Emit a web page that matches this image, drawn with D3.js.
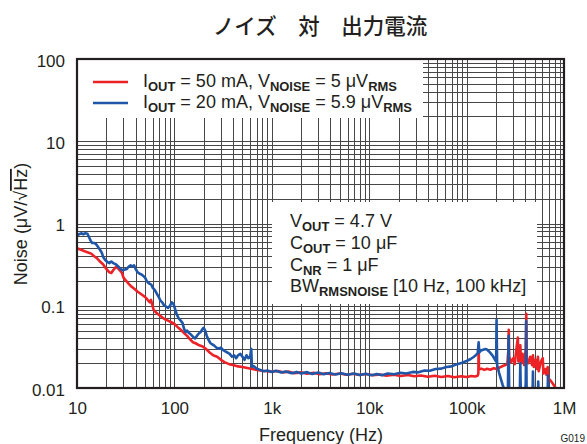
<!DOCTYPE html>
<html><head><meta charset="utf-8">
<script src="https://cdn.jsdelivr.net/npm/d3@7"></script>
<style>
body{margin:0;background:#fff;}
svg text{font-family:"Liberation Sans",Arial,Helvetica,sans-serif;fill:#231f20;}
</style></head><body>
<svg id="chart" width="587" height="444"></svg>
<script>
// Noise spectral density vs. frequency for two load currents
const chartTitle = "ノイズ　対　出力電流";
const xTickValues = [10, 100, 1e3, 1e4, 1e5, 1e6];
const xTickLabels = ["10", "100", "1k", "10k", "100k", "1M"];
const yTickValues = [0.01, 0.1, 1, 10, 100];
const yTickLabels = ["0.01", "0.1", "1", "10", "100"];

// IOUT = 50 mA
const freq50mA = [10,11,12,13,14,15,16,17,18.5,20,21.5,22.5,23.5,25,26,27.5,29,30,32,34,36,39,42,45,48,51,54,56,57.5,59,61,64,68,73,79,86,93,100,108,116,125,135,145,155,165,180,195,210,230,250,275,300,330,365,400,450,500,560,630,700,800,900,1000,1150,1300,1500,1700,2000,2300,2700,3100,3600,4200,5000,5800,6800,8000,9300,11000,13000,15000,18000,21000,25000,29000,34000,40000,47000,55000,64000,75000,88000,100000,112000,122000,130000,132000,133000,134000,142000,152000,163000,175000,190000,205000,220000,235000,250000,262000,268000,271000,274000,285000,300000,312000,325000,336000,340000,350000,356000,362000,375000,390000,405000,410000,415000,430000,450000,470000,480000,490000,510000,530000,540000,550000,580000,605000,615000,640000,660000,680000,690000,720000,760000,800000,830000];
const noise50mA = [0.50,0.48,0.46,0.445,0.43,0.40,0.38,0.35,0.32,0.28,0.255,0.25,0.27,0.295,0.29,0.27,0.25,0.22,0.20,0.185,0.172,0.16,0.148,0.14,0.132,0.125,0.115,0.11,0.118,0.105,0.09,0.084,0.079,0.074,0.069,0.066,0.063,0.060,0.055,0.051,0.047,0.043,0.039,0.036,0.035,0.033,0.032,0.030,0.027,0.025,0.024,0.022,0.0205,0.0195,0.019,0.0183,0.018,0.0175,0.017,0.0166,0.0162,0.016,0.0158,0.0161,0.0155,0.0158,0.0151,0.0155,0.0149,0.0153,0.0147,0.0151,0.0146,0.0150,0.0145,0.0149,0.0144,0.0148,0.0143,0.0146,0.0141,0.0145,0.0140,0.0144,0.0139,0.0142,0.0137,0.0141,0.0136,0.0140,0.0135,0.0139,0.0136,0.0140,0.0138,0.0141,0.0150,0.033,0.0168,0.0172,0.0166,0.0171,0.0167,0.0174,0.0170,0.0178,0.0185,0.0190,0.0195,0.028,0.051,0.024,0.0205,0.023,0.0195,0.030,0.041,0.021,0.025,0.033,0.020,0.026,0.019,0.030,0.080,0.022,0.020,0.024,0.019,0.025,0.018,0.022,0.017,0.024,0.016,0.021,0.023,0.015,0.017,0.0145,0.018,0.013,0.0125,0.0115,0.0105,0.0098];

// IOUT = 20 mA
const freq20mA = [10,10.5,11,11.6,12.2,12.8,13.3,13.8,14.3,15,15.7,16.4,17.2,18,18.6,19.5,20.5,21.5,22.5,23.5,25,26.5,28,29.5,31,32.5,34,35.5,37,38.5,40,42,44,46,48,50,52,54,56,58,60,63,66,69,72,75,78,82,86,90,94,98,102,106,111,116,121,126,130,135,140,147,155,163,170,178,186,194,200,207,215,225,235,245,255,270,285,300,315,330,350,370,390,410,430,450,475,500,525,550,575,600,615,625,650,700,760,830,900,1000,1100,1250,1400,1600,1800,2000,2300,2600,3000,3400,3900,4500,5200,6000,7000,8000,9200,10500,12000,13500,15500,18000,21000,24000,28000,32000,37000,42000,48000,55000,62000,70000,80000,90000,100000,110000,118000,125000,130000,133000,135000,140000,148000,156000,163000,170000,178000,186000,194000,201000,203000,206000,215000,225000,235000,245000,255000,265000,270000,274000,300000,330000,352000,356000,360000,400000,405000,409000,413000,450000,476000,480000,484000,540000,544000,548000,600000,680000,684000,688000,750000];
const noise20mA = [0.72,0.74,0.76,0.74,0.76,0.75,0.68,0.62,0.58,0.58,0.56,0.52,0.48,0.44,0.39,0.36,0.34,0.33,0.345,0.33,0.32,0.30,0.28,0.27,0.275,0.28,0.30,0.31,0.30,0.31,0.28,0.255,0.245,0.24,0.23,0.22,0.20,0.19,0.185,0.18,0.165,0.155,0.14,0.128,0.115,0.11,0.102,0.098,0.094,0.10,0.11,0.105,0.09,0.078,0.07,0.066,0.062,0.052,0.048,0.05,0.047,0.045,0.042,0.04,0.043,0.046,0.048,0.052,0.054,0.05,0.043,0.038,0.035,0.034,0.033,0.031,0.03,0.031,0.029,0.028,0.027,0.026,0.024,0.025,0.023,0.025,0.026,0.024,0.022,0.025,0.023,0.024,0.030,0.018,0.0185,0.0172,0.0166,0.0160,0.0163,0.0157,0.0162,0.0154,0.0159,0.0151,0.0157,0.0150,0.0156,0.0148,0.0154,0.0147,0.0152,0.0146,0.0151,0.0145,0.0150,0.0144,0.0149,0.0143,0.0148,0.0143,0.0150,0.0147,0.0153,0.0150,0.0157,0.0155,0.0163,0.0162,0.0170,0.0172,0.0180,0.0183,0.0195,0.0203,0.0213,0.0225,0.0238,0.0252,0.0265,0.036,0.027,0.0285,0.0292,0.0298,0.0292,0.0278,0.0262,0.0245,0.0225,0.021,0.067,0.019,0.0155,0.0128,0.0108,0.0094,0.0082,0.0085,0.043,0.0085,0.008,0.0085,0.009,0.020,0.009,0.008,0.012,0.065,0.009,0.008,0.009,0.0158,0.009,0.0085,0.012,0.009,0.008,0.0085,0.0142,0.0085,0.008];

const svg = d3.select("#chart");
const plot = {left: 77, right: 564, top: 59, bottom: 388};

const x = d3.scaleLog().domain([10, 1e6]).range([plot.left, plot.right]);
const y = d3.scaleLog().domain([0.01, 100]).range([plot.bottom, plot.top]);

// title
svg.append("text")
  .attr("x", 320).attr("y", 34)
  .attr("text-anchor", "middle")
  .style("font-family", '"Noto Sans CJK JP", sans-serif')
  .style("font-size", "21.5px")
  .style("font-weight", "500")
  .text(chartTitle);

// grid lines at 1..9 of every decade
const gridX = [];
for (let d = 10; d < 1e6; d *= 10) for (let k = 1; k < 10; k++) gridX.push(k * d);
const gridY = [];
for (let d = 0.01; d < 99; d *= 10) for (let k = 1; k < 10; k++) gridY.push(k * d);

const grid = svg.append("g").attr("stroke", "#474747").attr("stroke-width", 1);
grid.selectAll("line.v").data(gridX).join("line").attr("class", "v")
  .attr("x1", d => Math.round(x(d)) + 0.5).attr("x2", d => Math.round(x(d)) + 0.5)
  .attr("y1", plot.top).attr("y2", plot.bottom);
grid.selectAll("line.h").data(gridY).join("line").attr("class", "h")
  .attr("y1", d => Math.round(y(d)) + 0.5).attr("y2", d => Math.round(y(d)) + 0.5)
  .attr("x1", plot.left).attr("x2", plot.right);

// legend and condition boxes cover the grid
svg.append("rect").attr("x", plot.left).attr("y", plot.top).attr("width", 346).attr("height", 59).attr("fill", "#fff");
svg.append("rect").attr("x", 272).attr("y", 202).attr("width", 265).attr("height", 102).attr("fill", "#fff");

// curves
svg.append("clipPath").attr("id", "plotClip").append("rect")
  .attr("x", plot.left).attr("y", plot.top)
  .attr("width", plot.right - plot.left).attr("height", plot.bottom - plot.top);

const line = d3.line().x(d => x(d[0])).y(d => y(d[1]));
const series = [
  {f: freq50mA, v: noise50mA, color: "#ec2227"},
  {f: freq20mA, v: noise20mA, color: "#1f56a8"}
];
const curves = svg.append("g").attr("clip-path", "url(#plotClip)");
series.forEach(s => {
  curves.append("path")
    .datum(d3.zip(s.f, s.v))
    .attr("fill", "none").attr("stroke", s.color)
    .attr("stroke-width", 2.6).attr("stroke-linejoin", "round")
    .attr("d", line);
});

// frame
svg.append("rect").attr("x", plot.left).attr("y", plot.top)
  .attr("width", plot.right - plot.left).attr("height", plot.bottom - plot.top)
  .attr("fill", "none").attr("stroke", "#231f20").attr("stroke-width", 2.2);

// axes
const xAxis = d3.axisBottom(x).tickValues(xTickValues)
  .tickFormat((d, i) => xTickLabels[i]).tickSize(0).tickPadding(14);
const gx = svg.append("g").attr("transform", `translate(0,${plot.bottom})`).call(xAxis);
const yAxis = d3.axisLeft(y).tickValues(yTickValues)
  .tickFormat((d, i) => yTickLabels[i]).tickSize(0).tickPadding(12);
const gy = svg.append("g").attr("transform", `translate(${plot.left},0)`).call(yAxis);
[gx, gy].forEach(g => {
  g.select(".domain").remove();
  g.selectAll("text").style("font-size", "17px").attr("fill", "#231f20")
    .style("font-family", '"Liberation Sans",Arial,sans-serif');
});
gy.selectAll("text").attr("dy", "0.42em");

// rich text helper: segments of [text, isSubscript]
function rich(sel, px, py, segs, size) {
  const t = sel.append("text").attr("x", px).attr("y", py).style("font-size", size + "px");
  let shifted = false;
  segs.forEach(([str, sub]) => {
    const ts = t.append("tspan").text(str);
    if (sub && !shifted) { ts.attr("dy", 4).style("font-size", (size * 0.72) + "px").style("font-weight", "bold"); shifted = true; }
    else if (sub) { ts.style("font-size", (size * 0.72) + "px").style("font-weight", "bold"); }
    else if (shifted) { ts.attr("dy", -4); shifted = false; }
  });
  return t;
}

// legend
const legendRows = [
  {color: "#ec2227", segs: [["I"], ["OUT", 1], [" = 50 mA, V"], ["NOISE", 1], [" = 5 μV"], ["RMS", 1]]},
  {color: "#1f56a8", segs: [["I"], ["OUT", 1], [" = 20 mA, V"], ["NOISE", 1], [" = 5.9 μV"], ["RMS", 1]]}
];
legendRows.forEach((r, i) => {
  const yy = 82 + i * 21;
  svg.append("line").attr("x1", 93).attr("x2", 128).attr("y1", yy).attr("y2", yy)
    .attr("stroke", r.color).attr("stroke-width", 2.6);
  rich(svg, 143, yy + 5, r.segs, 18);
});

// operating conditions
const conditions = [
  [["V"], ["OUT", 1], [" = 4.7 V"]],
  [["C"], ["OUT", 1], [" = 10 μF"]],
  [["C"], ["NR", 1], [" = 1 μF"]],
  [["BW"], ["RMSNOISE", 1], [" [10 Hz, 100 kHz]"]]
];
conditions.forEach((segs, i) => rich(svg, 290, 227 + i * 21.8, segs, 18));

// axis titles
svg.append("text").attr("x", 321).attr("y", 441).attr("text-anchor", "middle")
  .style("font-size", "18px").text("Frequency (Hz)");
const yt = svg.append("text").attr("transform", "translate(27,224) rotate(-90)")
  .attr("text-anchor", "middle").style("font-size", "18px");
yt.append("tspan").text("Noise (μV/√");
yt.append("tspan").style("text-decoration", "overline").text("Hz");
yt.append("tspan").text(")");

svg.append("text").attr("x", 585).attr("y", 442).attr("text-anchor", "end")
  .style("font-size", "10px").text("G019");
</script>
</body></html>
